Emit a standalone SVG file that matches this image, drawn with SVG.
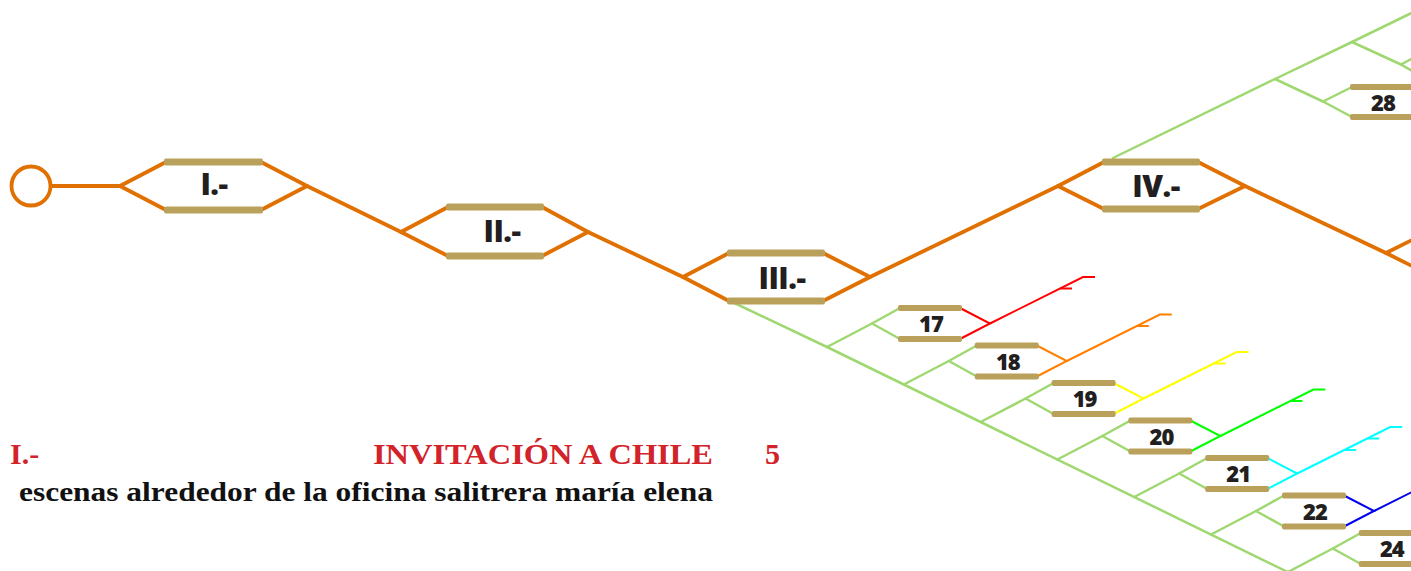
<svg xmlns="http://www.w3.org/2000/svg" width="1411" height="571" viewBox="0 0 1411 571">
<style>
.o{fill:none;stroke:#e07000;stroke-width:3.8;stroke-linecap:round;stroke-linejoin:round}
.g{fill:none;stroke:#9fd870;stroke-width:2.5;stroke-linecap:round;stroke-linejoin:round}
.c{fill:none;stroke-width:2;stroke-linecap:butt;stroke-linejoin:miter}
.bar{fill:#b9a05b}
.big{font-family:"Open Sans","Liberation Sans",sans-serif;font-weight:800;font-size:30px;fill:#231f20;text-anchor:middle;letter-spacing:-0.5px}
.num{font-family:"Open Sans","Liberation Sans",sans-serif;font-weight:800;font-size:22px;fill:#231f20;text-anchor:middle;letter-spacing:-1px}
.red{font-family:"Liberation Serif",serif;font-weight:700;font-size:30px;fill:#d2232a}
.blk{font-family:"Liberation Serif",serif;font-weight:700;font-size:27px;fill:#111}
</style>
<rect width="1411" height="571" fill="#fff"/>

<g id="connectors">
  <line class="o" x1="51" y1="186" x2="120" y2="186"/>
  <line class="o" x1="307" y1="186" x2="401" y2="232"/>
  <line class="o" x1="588" y1="232" x2="683" y2="277"/>
  <line class="o" x1="870" y1="277" x2="1058" y2="186"/>
  <line class="o" x1="1245" y1="186" x2="1386" y2="253"/>
  <polyline class="g" points="728,300 827,347 1287.8,572"/>
  <polyline class="g" points="1113,158 1275,79 1352,42 1432,3"/>
  <polyline class="g" points="1275,79 1323,101.5"/>
  <polyline class="g" points="1352,42 1401,64.5 1429,80.5"/>
  <polyline class="g" points="1401,64.5 1429,49.5"/>
</g>

<g id="node-start">
  <circle cx="31" cy="186" r="19.5" fill="#fff" stroke="#e07000" stroke-width="3.8"/>
</g>

<g id="node-I">
  <path class="o" d="M166,162 L120,186 L166,210 M261,162 L307,186 L261,210"/>
  <rect class="bar" x="164" y="158.5" width="99" height="7" rx="2"/>
  <rect class="bar" x="164" y="206.5" width="99" height="7" rx="2"/>
  <text class="big" x="214" y="195">I.-</text>
</g>

<g id="node-II">
  <path class="o" d="M448,207 L401,232 L448,256 M542,207 L588,232 L542,256"/>
  <rect class="bar" x="446" y="203.5" width="98" height="7" rx="2"/>
  <rect class="bar" x="446" y="252.5" width="98" height="7" rx="2"/>
  <text class="big" x="502" y="242">II.-</text>
</g>

<g id="node-III">
  <path class="o" d="M729,253 L683,277 L729,301 M823,253 L870,277 L823,301"/>
  <rect class="bar" x="727" y="249.5" width="98" height="7" rx="2"/>
  <rect class="bar" x="727" y="297.5" width="98" height="7" rx="2"/>
  <text class="big" x="782" y="289">III.-</text>
</g>

<g id="node-IV">
  <path class="o" d="M1104,162 L1058,186 L1104,209 M1198,162 L1245,186 L1198,209"/>
  <rect class="bar" x="1102" y="158.5" width="98" height="7" rx="2"/>
  <rect class="bar" x="1102" y="205.5" width="98" height="7" rx="2"/>
  <text class="big" x="1156" y="197">IV.-</text>
</g>

<g id="node-V">
  <path class="o" d="M1434,229 L1386,253 L1434,277"/>
</g>

<g id="node-17">
  <polyline class="g" points="827,347 872,323.5"/>
  <polyline class="g" points="900,308 872,323.5 900,339"/>
  <polyline class="c" stroke="#ff0000" points="960,308 990,323.5 960,339"/>
  <polyline class="c" stroke="#ff0000" points="990,323.5 1083,277 1095,277"/>
  <line class="c" stroke="#ff0000" x1="1060" y1="288.5" x2="1072" y2="288.5"/>
  <rect class="bar" x="898" y="305" width="64" height="6" rx="2"/>
  <rect class="bar" x="898" y="336" width="64" height="6" rx="2"/>
  <text class="num" x="931" y="332">17</text>
</g>

<g id="node-18">
  <polyline class="g" points="903.8,384.5 948.8,361"/>
  <polyline class="g" points="976.8,345.5 948.8,361 976.8,376.5"/>
  <polyline class="c" stroke="#ff8000" points="1036.8,345.5 1066.8,361 1036.8,376.5"/>
  <polyline class="c" stroke="#ff8000" points="1066.8,361 1159.8,314.5 1171.8,314.5"/>
  <line class="c" stroke="#ff8000" x1="1136.8" y1="326" x2="1148.8" y2="326"/>
  <rect class="bar" x="974.8" y="342.5" width="64" height="6" rx="2"/>
  <rect class="bar" x="974.8" y="373.5" width="64" height="6" rx="2"/>
  <text class="num" x="1007.8" y="369.5">18</text>
</g>

<g id="node-19">
  <polyline class="g" points="980.6,422 1025.6,398.5"/>
  <polyline class="g" points="1053.6,383 1025.6,398.5 1053.6,414"/>
  <polyline class="c" stroke="#ffff00" points="1113.6,383 1143.6,398.5 1113.6,414"/>
  <polyline class="c" stroke="#ffff00" points="1143.6,398.5 1236.6,352 1248.6,352"/>
  <line class="c" stroke="#ffff00" x1="1213.6" y1="363.5" x2="1225.6" y2="363.5"/>
  <rect class="bar" x="1051.6" y="380" width="64" height="6" rx="2"/>
  <rect class="bar" x="1051.6" y="411" width="64" height="6" rx="2"/>
  <text class="num" x="1084.6" y="407">19</text>
</g>

<g id="node-20">
  <polyline class="g" points="1057.4,459.5 1102.4,436"/>
  <polyline class="g" points="1130.4,420.5 1102.4,436 1130.4,451.5"/>
  <polyline class="c" stroke="#00ff00" points="1190.4,420.5 1220.4,436 1190.4,451.5"/>
  <polyline class="c" stroke="#00ff00" points="1220.4,436 1313.4,389.5 1325.4,389.5"/>
  <line class="c" stroke="#00ff00" x1="1290.4" y1="401" x2="1302.4" y2="401"/>
  <rect class="bar" x="1128.4" y="417.5" width="64" height="6" rx="2"/>
  <rect class="bar" x="1128.4" y="448.5" width="64" height="6" rx="2"/>
  <text class="num" x="1161.4" y="444.5">20</text>
</g>

<g id="node-21">
  <polyline class="g" points="1134.2,497 1179.2,473.5"/>
  <polyline class="g" points="1207.2,458 1179.2,473.5 1207.2,489"/>
  <polyline class="c" stroke="#00ffff" points="1267.2,458 1297.2,473.5 1267.2,489"/>
  <polyline class="c" stroke="#00ffff" points="1297.2,473.5 1390.2,427 1402.2,427"/>
  <line class="c" stroke="#00ffff" x1="1367.2" y1="438.5" x2="1379.2" y2="438.5"/>
  <line class="c" stroke="#00ffff" x1="1344.2" y1="450" x2="1356.2" y2="450"/>
  <rect class="bar" x="1205.2" y="455" width="64" height="6" rx="2"/>
  <rect class="bar" x="1205.2" y="486" width="64" height="6" rx="2"/>
  <text class="num" x="1238.2" y="482">21</text>
</g>

<g id="node-22">
  <polyline class="g" points="1211,534.5 1256,511"/>
  <polyline class="g" points="1284,495.5 1256,511 1284,526.5"/>
  <polyline class="c" stroke="#0000ee" points="1344,495.5 1374,511 1344,526.5"/>
  <polyline class="c" stroke="#0000ee" points="1374,511 1467,464.5"/>
  <rect class="bar" x="1282" y="492.5" width="64" height="6" rx="2"/>
  <rect class="bar" x="1282" y="523.5" width="64" height="6" rx="2"/>
  <text class="num" x="1315" y="519.5">22</text>
</g>

<g id="node-24">
  <polyline class="g" points="1287.8,572 1332.8,548.5"/>
  <polyline class="g" points="1360.8,533 1332.8,548.5 1360.8,564"/>
  <rect class="bar" x="1358.8" y="530" width="64" height="6" rx="2"/>
  <rect class="bar" x="1358.8" y="561" width="64" height="6" rx="2"/>
  <text class="num" x="1391.8" y="557">24</text>
</g>

<g id="node-28">
  <polyline class="g" points="1352,87 1323,101.5 1352,117"/>
  <rect class="bar" x="1350" y="84" width="64" height="6" rx="2"/>
  <rect class="bar" x="1350" y="114" width="64" height="6" rx="2"/>
  <text class="num" x="1383" y="110.5">28</text>
</g>

<g id="caption">
  <text class="red" x="10" y="464">I.-</text>
  <text class="red" x="373" y="464" textLength="340" lengthAdjust="spacingAndGlyphs">INVITACIÓN A CHILE</text>
  <text class="red" x="765" y="464">5</text>
  <text class="blk" x="19" y="501" textLength="694" lengthAdjust="spacingAndGlyphs">escenas alrededor de la oficina salitrera maría elena</text>
</g>
</svg>
